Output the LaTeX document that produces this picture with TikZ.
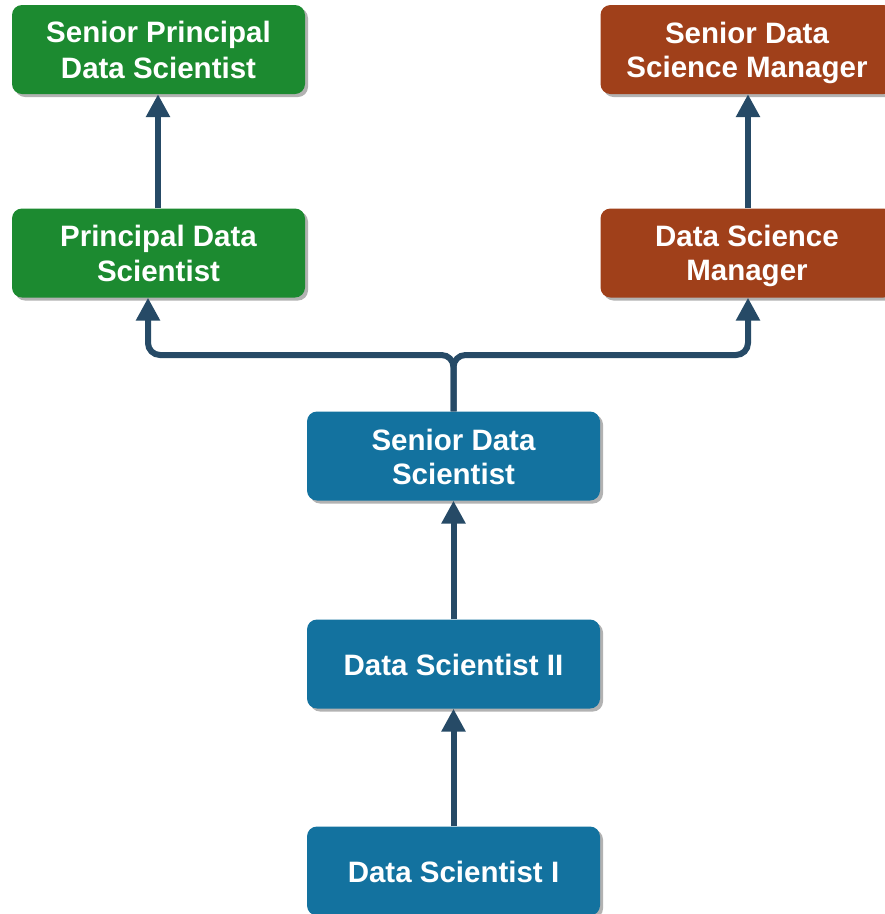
\documentclass[tikz,border=0pt]{standalone}
\usepackage{fontspec}
\setmainfont{Liberation Sans}
\usetikzlibrary{arrows.meta,shadows}
\definecolor{boxgreen}{HTML}{1C8A30}
\definecolor{boxbrown}{HTML}{A0401A}
\definecolor{boxblue}{HTML}{13729F}
\definecolor{arrowc}{HTML}{264A66}
\newcommand{\rs}{\rule[-6pt]{0pt}{34pt}}
\tikzset{
  rolebox/.style={draw=none, rounded corners=10pt, minimum width=293pt, minimum height=89pt,
    inner sep=0pt, align=center, text=white,
    font=\bfseries\fontsize{29.5}{34}\selectfont,
    drop shadow={shadow xshift=3pt, shadow yshift=-3pt, fill=black, opacity=0.3}},
  greenbox/.style={rolebox, fill=boxgreen},
  brownbox/.style={rolebox, fill=boxbrown},
  bluebox/.style={rolebox, fill=boxblue},
  promote/.style={draw=arrowc, line width=6pt, -{Triangle[width=23pt,length=23pt]}, rounded corners=12pt}
}
\begin{document}
\begin{tikzpicture}[x=1pt,y=-1pt]
\clip (0,0) rectangle (885,914);
\fill[white] (0,0) rectangle (885,914);
\node[greenbox] (spds) at (158.5,49.5) {\rs Senior Principal\\\rs Data Scientist};
\node[brownbox] (sdsm) at (747,49.5) {\rs Senior Data\\\rs Science Manager};
\node[greenbox] (pds) at (158.5,253) {\rs Principal Data\\\rs Scientist};
\node[brownbox] (dsm) at (747,253) {\rs Data Science\\\rs Manager};
\node[bluebox] (sds) at (453.5,456) {\rs Senior Data\\\rs Scientist};
\node[bluebox] (ds2) at (453.5,664) {\rs Data Scientist II};
\node[bluebox] (ds1) at (453.5,871) {\rs Data Scientist I};
\coordinate (jl) at (148,355);
\coordinate (jr) at (748,355);
\draw[promote] (pds.north -| 158,0) -- (spds.south -| 158,0);
\draw[promote] (dsm.north -| 748,0) -- (sdsm.south -| 748,0);
\draw[promote] (ds1.north) -- (ds2.south);
\draw[promote] (ds2.north) -- (sds.south);
\draw[promote] (sds.north) |- (jl) -- (pds.south -| jl);
\draw[promote] (sds.north) |- (jr) -- (dsm.south -| jr);
\end{tikzpicture}
\end{document}
